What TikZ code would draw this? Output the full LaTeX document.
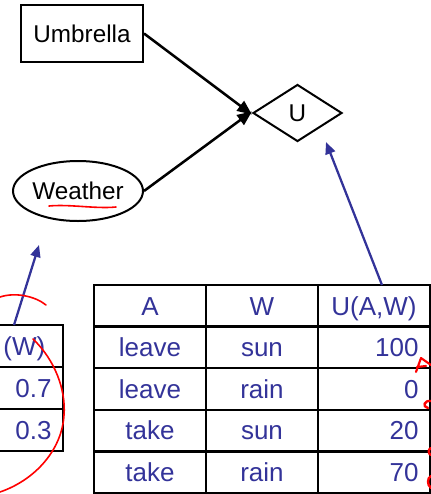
\documentclass[tikz,border=0pt]{standalone}
\usepackage{fontspec}
\setmainfont{Liberation Sans}
\usetikzlibrary{arrows.meta,shapes.geometric}

\definecolor{tblblue}{RGB}{51,51,153}

\tikzset{every picture/.style={line width=0.75pt}}
\tikzset{
  dnode/.style={draw,line width=1.5pt,inner sep=0pt,font=\fontsize{18.2}{20}\selectfont},
  blkarrow/.style={line width=1.9pt,-{Triangle[length=11pt,width=9pt]}},
  bluarrow/.style={draw=tblblue,line width=1.7pt,-{Triangle[length=9pt,width=7.5pt]}},
  cell/.style={text=tblblue,font=\fontsize{19.5}{22}\selectfont,inner sep=0pt},
  gridline/.style={line width=1.8pt},
  ink/.style={draw=red,line width=1.2pt,line cap=round,line join=round},
}

\begin{document}
\begin{tikzpicture}[x=0.75pt,y=0.75pt,yscale=-1,xscale=1]
\path[use as bounding box] (0,0) rectangle (431,494);

%Shape: decision, chance and utility nodes
\node[dnode,rectangle,minimum width=91.5pt,minimum height=42.75pt] (umb) at (82,33.5) {Umbrella};
\node[dnode,ellipse,minimum width=97.5pt,minimum height=45pt] (wth) at (78,191) {Weather};
\node[dnode,diamond,aspect=1.56,minimum width=66.75pt,minimum height=42.75pt] (util) at (297.5,113) {U};

%Arrows into U
\draw[blkarrow] (umb.east) -- ([yshift=1.2pt]util.west);
\draw[blkarrow] (wth.east) -- ([yshift=-1.2pt]util.west);

%Table: U(A,W)
\draw[gridline,line width=2.1pt] (94,285) rectangle (430,493);
\foreach \x in {206,318} \draw[gridline] (\x,285) -- (\x,493);
\foreach \y in {326.6,368.2,409.8,451.4} \draw[gridline] (94,\y) -- (430,\y);

% Text Node
\node[cell,anchor=base] (hA) at (150,315) {A};
\node[cell,anchor=base] (hW) at (262,315) {W};
\node[cell,anchor=base] (hU) at (374,315) {U(A,W)};
\foreach \a/\w/\u [count=\r] in {leave/sun/100,leave/rain/0,take/sun/20,take/rain/70} {
  \node[cell,anchor=base] (a\r) at (150,315+41.6*\r) {\a};
  \node[cell,anchor=base] (w\r) at (262,315+41.6*\r) {\w};
  \node[cell,anchor=base east] (u\r) at (419,315+41.6*\r) {\u};
}

%Table: P(W), only its last column shows
\draw[gridline,line width=2.1pt] (0,325) -- (63,325) -- (63,451) -- (0,451);
\foreach \y in {367,409} \draw[gridline] (0,\y) -- (63,\y);
\node[cell,anchor=base west] (hP) at (3,355) {(W)};
\node[cell,anchor=base east] (p1) at (52,397) {0.7};
\node[cell,anchor=base east] (p2) at (52,439) {0.3};

%Straight Lines: tables pointing to their nodes
\coordinate (utop) at (382,285);
\coordinate (uptr) at (326,142);
\coordinate (ptop) at (14,325);
\coordinate (pptr) at (39,245);
\draw[bluarrow] (utop) -- (uptr);
\draw[bluarrow] (ptop) -- (pptr);

%Red pen marks
\draw[ink] (49,206) .. controls (70,204) and (95,209) .. (116,207);
\draw[ink] (0,297) .. controls (15,292) and (35,296) .. (46,305);
\draw[ink] (33,339) .. controls (55,360) and (66,390) .. (64,415) .. controls (62,450) and (35,480) .. (0,492);
\draw[ink,line width=1.6pt] (416,372) -- (421,358) -- (431,365) (417,367) -- (426,366);
\draw[ink,line width=1.8pt] (431,401) .. controls (424,400) and (422,407) .. (428,408);
\draw[ink,line width=1.8pt] (431,448) .. controls (428,449) and (428,454) .. (431,455);
\draw[ink,line width=1.8pt] (431,476) .. controls (427,478) and (427,485) .. (431,488);

\end{tikzpicture}
\end{document}
